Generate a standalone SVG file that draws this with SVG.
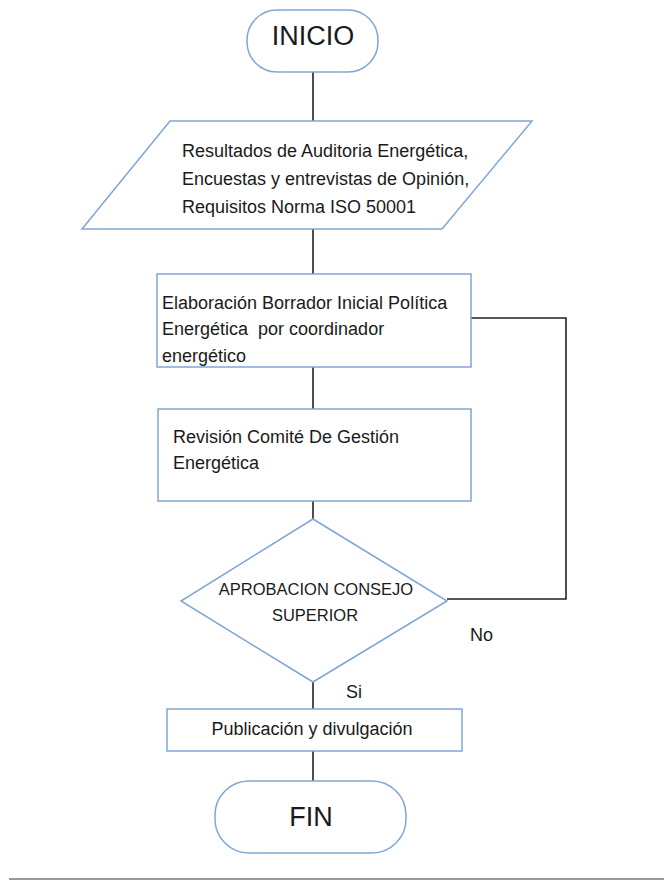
<svg xmlns="http://www.w3.org/2000/svg" width="664" height="880" viewBox="0 0 664 880">
<style>
.shape{fill:#ffffff;stroke:#7fa5d6;stroke-width:1.5}
.conn{fill:none;stroke:#222222;stroke-width:1.6}
text{font-family:"Liberation Sans",Arial,sans-serif;fill:#1a1a1a;font-size:18px}
.big{font-size:27px}
.mid{font-size:16.5px}
.pre{white-space:pre}
</style>
<rect width="664" height="880" fill="#ffffff"/>
<g id="connectors">
<line class="conn" x1="313" y1="72" x2="313" y2="121"/>
<line class="conn" x1="313" y1="229" x2="313" y2="274"/>
<line class="conn" x1="313" y1="367" x2="313" y2="409"/>
<line class="conn" x1="313" y1="501" x2="313" y2="519"/>
<line class="conn" x1="313" y1="682" x2="313" y2="709"/>
<line class="conn" x1="313" y1="751" x2="313" y2="781"/>
<polyline class="conn" points="471,318 566,318 566,599 447,599"/>
</g>
<g id="inicio">
<rect class="shape" x="247" y="10" width="131" height="62" rx="30" ry="30"/>
<text class="big" x="313" y="45" text-anchor="middle">INICIO</text>
</g>
<g id="entradas">
<polygon class="shape" points="170,121 532,121 442,229 82,229"/>
<text x="182" y="157">Resultados de Auditoria Energética,</text>
<text x="182" y="185">Encuestas y entrevistas de Opinión,</text>
<text x="182" y="213">Requisitos Norma ISO 50001</text>
</g>
<g id="elaboracion">
<rect class="shape" x="157" y="274" width="314" height="93"/>
<text x="162" y="309">Elaboración Borrador Inicial Política</text>
<text class="pre" x="162" y="335" xml:space="preserve">Energética  por coordinador</text>
<text x="162" y="362">energético</text>
</g>
<g id="revision">
<rect class="shape" x="158" y="409" width="313" height="92"/>
<text x="173" y="443">Revisión Comité De Gestión</text>
<text x="173" y="469">Energética</text>
</g>
<g id="aprobacion">
<polygon class="shape" points="313,519 447,601 313,682 181,601"/>
<text class="mid" x="316" y="595" text-anchor="middle">APROBACION CONSEJO</text>
<text class="mid" x="315" y="621" text-anchor="middle">SUPERIOR</text>
</g>
<g id="labels">
<text x="470" y="641">No</text>
<text x="346" y="698">Si</text>
</g>
<g id="publicacion">
<rect class="shape" x="167" y="709" width="295" height="42"/>
<text x="312" y="735" text-anchor="middle">Publicación y divulgación</text>
</g>
<g id="fin">
<rect class="shape" x="215" y="781" width="191" height="72" rx="34" ry="34"/>
<text class="big" x="311" y="826" text-anchor="middle">FIN</text>
</g>
<line x1="9" y1="879" x2="664" y2="879" stroke="#999999" stroke-width="2"/>
</svg>
